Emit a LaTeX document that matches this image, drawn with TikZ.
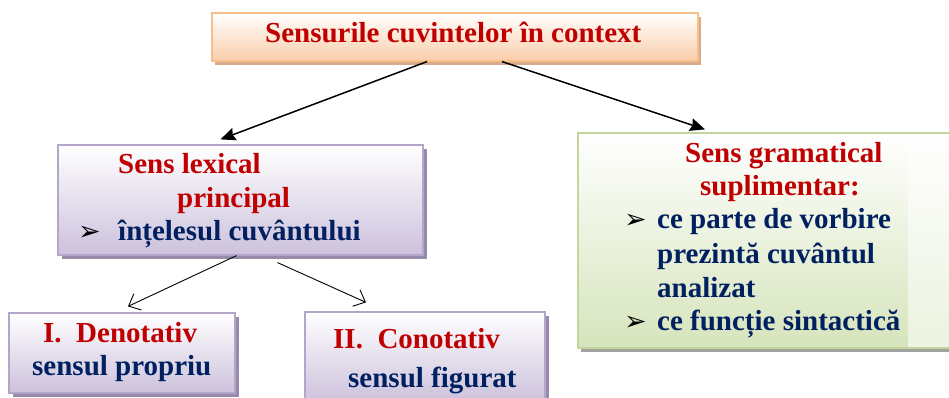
\documentclass[tikz,border=0pt]{standalone}
\usepackage{fontspec}
\setmainfont{Liberation Serif}
\newfontfamily\symfont{DejaVu Sans}
\usetikzlibrary{arrows.meta,shadows,calc}
\definecolor{tred}{RGB}{192,0,0}
\definecolor{tblue}{RGB}{0,32,96}
\definecolor{peach}{RGB}{250,205,170}
\definecolor{peachline}{RGB}{248,190,140}
\definecolor{peachshadow}{RGB}{215,170,140}
\definecolor{lav}{RGB}{204,193,220}
\definecolor{lavline}{RGB}{180,165,205}
\definecolor{lavshadow}{RGB}{150,140,170}
\definecolor{grn}{RGB}{214,228,188}
\definecolor{grnline}{RGB}{195,214,155}
\definecolor{grnshadow}{RGB}{160,162,160}
\tikzset{
  box/.style={rectangle, inner sep=0pt, line width=1.2pt},
  topbox/.style={box, draw=peachline, top color=white, bottom color=peach,
    general shadow={shadow xshift=3pt, shadow yshift=-4pt, fill=peachshadow}},
  lavbox/.style={box, draw=lavline, top color=white, bottom color=lav,
    general shadow={shadow xshift=4pt, shadow yshift=-4pt, fill=lavshadow}},
  grnbox/.style={box, draw=grnline, top color=white, bottom color=grn,
    general shadow={shadow xshift=3pt, shadow yshift=-4pt, fill=grnshadow}},
  txt/.style={inner sep=0pt, anchor=base west, font=\fontsize{29}{34}\selectfont\bfseries},
  rtxt/.style={txt, text=tred},
  btxt/.style={txt, text=tblue},
  bul/.style={inner sep=0pt, anchor=base west, font=\symfont\fontsize{27}{30}\selectfont},
  bigarrow/.style={line width=1.5pt, -{Stealth[length=15pt,width=13pt,inset=2pt]}},
  smallarrow/.style={line width=0.9pt, -{Straight Barb[length=10pt,width=18pt]}}
}
\begin{document}
\begin{tikzpicture}[x=1pt,y=-1pt]
\useasboundingbox (0,0) rectangle (949,398);
\begin{scope}
\clip (0,0) rectangle (949,398);
% boxes
\node[topbox, minimum width=486pt, minimum height=48pt] (top) at (455,37) {};
\node[lavbox, minimum width=365pt, minimum height=110pt] (lex) at (240.5,200) {};
\node[grnbox, minimum width=382pt, minimum height=215pt] (gram) at (769,240.5) {};
\fill[white, opacity=0.55] (908,134) rectangle (949,347);
\node[lavbox, minimum width=226pt, minimum height=80pt] (deno) at (122,353) {};
\node[lavbox, minimum width=240pt, minimum height=90pt] (cono) at (425,357) {};
\end{scope}
% title
\node[rtxt] (t1) at (265,43) {Sensurile cuvintelor în context};
% lexical
\node[rtxt] (l1) at (118,173) {Sens lexical};
\node[rtxt] (l2) at (177,207) {principal};
\node[bul] (lb) at (78,240) {➢};
\node[btxt] (l3) at (118,240) {înțelesul cuvântului};
% gramatical
\node[rtxt] (g1) at (685,162) {Sens gramatical};
\node[rtxt] (g2) at (700,195) {suplimentar:};
\node[bul] (gb1) at (624,228) {➢};
\node[btxt] (g3) at (657,228) {ce parte de vorbire};
\node[btxt] (g4) at (657,263) {prezintă cuvântul};
\node[btxt] (g5) at (657,297) {analizat};
\node[bul] (gb2) at (624,330) {➢};
\node[btxt] (g6) at (657,330) {ce funcție sintactică};
% denotativ
\node[rtxt] (d1) at (43,342) {I.\ \ Denotativ};
\node[btxt] (d2) at (32,375) {sensul propriu};
% conotativ
\node[rtxt] (c1) at (333,348) {II.\ \ Conotativ};
\node[btxt] (c2) at (348,387) {sensul figurat};
% arrows
\draw[bigarrow] ([xshift=-28pt]top.south) -- ([xshift=-20pt,yshift=5pt]lex.north);
\draw[bigarrow] ([xshift=47pt]top.south) -- ([xshift=-64pt,yshift=3pt]gram.north);
\draw[smallarrow] ([xshift=-4pt]lex.south) -- ([xshift=6pt,yshift=6pt]deno.north);
\draw[smallarrow] ([xshift=37pt,yshift=-7pt]lex.south) -- ([xshift=-59pt,yshift=9pt]cono.north);
\end{tikzpicture}
\end{document}
